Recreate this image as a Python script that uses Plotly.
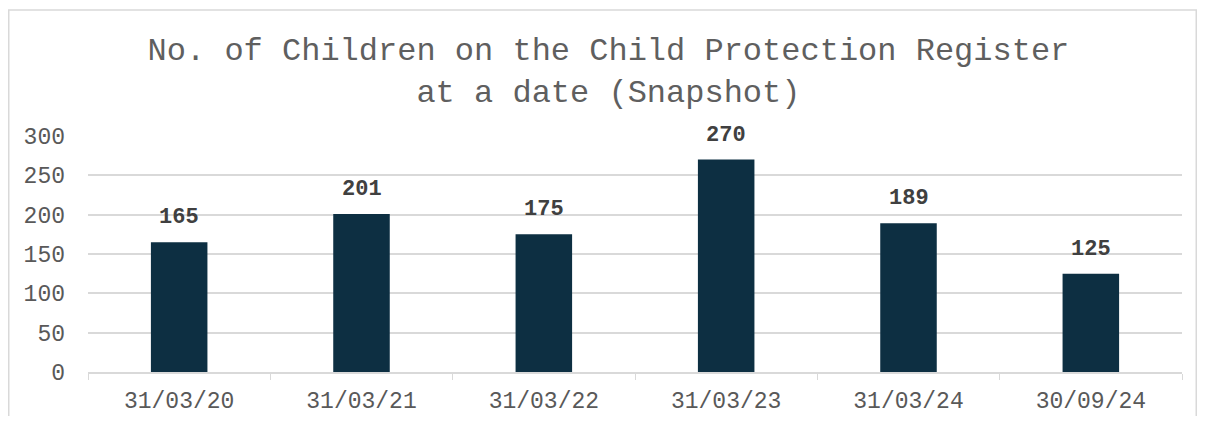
import plotly.graph_objects as go

dates = ["31/03/20", "31/03/21", "31/03/22", "31/03/23", "31/03/24", "30/09/24"]
children = [165, 201, 175, 270, 189, 125]

title_text = "No. of Children on the Child Protection Register<br>at a date (Snapshot)"
mono = "Liberation Mono, Courier New, monospace"

# page body has an 8px margin, so size the figure to fit inside the window
W, H = 1189, 408
L, R, T, B = 80, 15, 128, 44
pw, ph = W - L - R, H - T - B

fig = go.Figure()
fig.add_trace(go.Bar(
    x=dates,
    y=children,
    marker_color="#0d2f42",
    marker_line_width=0,
    width=0.31
))

for d, v in zip(dates, children):
    fig.add_annotation(x=d, y=v, text=str(v), showarrow=False,
                       yanchor="bottom", yshift=10,
                       font=dict(size=22, family=mono, color="#404040", weight="bold"))

fig.update_layout(
    title=dict(text=title_text, x=0.505, xref="container", xanchor="center",
               y=0.872, yref="container", yanchor="top",
               font=dict(size=32, family=mono, color="#5f5f5f")),
    font=dict(family=mono, size=23, color="#595959"),
    width=W,
    height=H,
    margin=dict(l=L, r=R, t=T, b=B),
    plot_bgcolor="white",
    paper_bgcolor="white",
    showlegend=False,
    xaxis=dict(
        automargin=False,
        showgrid=False,
        showline=True,
        linecolor="#d9d9d9",
        linewidth=1.5,
        ticks="outside",
        tickson="boundaries",
        ticklen=6,
        tickcolor="#d9d9d9",
        ticklabelstandoff=7,
        tickfont=dict(size=23, family=mono, color="#595959"),
    ),
    yaxis=dict(
        automargin=False,
        range=[0, 300],
        dtick=50,
        showgrid=True,
        gridcolor="#d9d9d9",
        gridwidth=1.5,
        zeroline=False,
        ticks="",
        ticklabelstandoff=22,
        tickfont=dict(size=23, family=mono, color="#595959"),
    ),
)

# light chart border
fig.add_shape(type="rect", xref="paper", yref="paper",
              x0=(0.75 - L) / pw, x1=(W - 0.75 - L) / pw,
              y0=-0.3, y1=1 + (T - 2) / ph,
              line=dict(color="#d9d9d9", width=1.5), layer="below")

fig.write_html("out.html")
